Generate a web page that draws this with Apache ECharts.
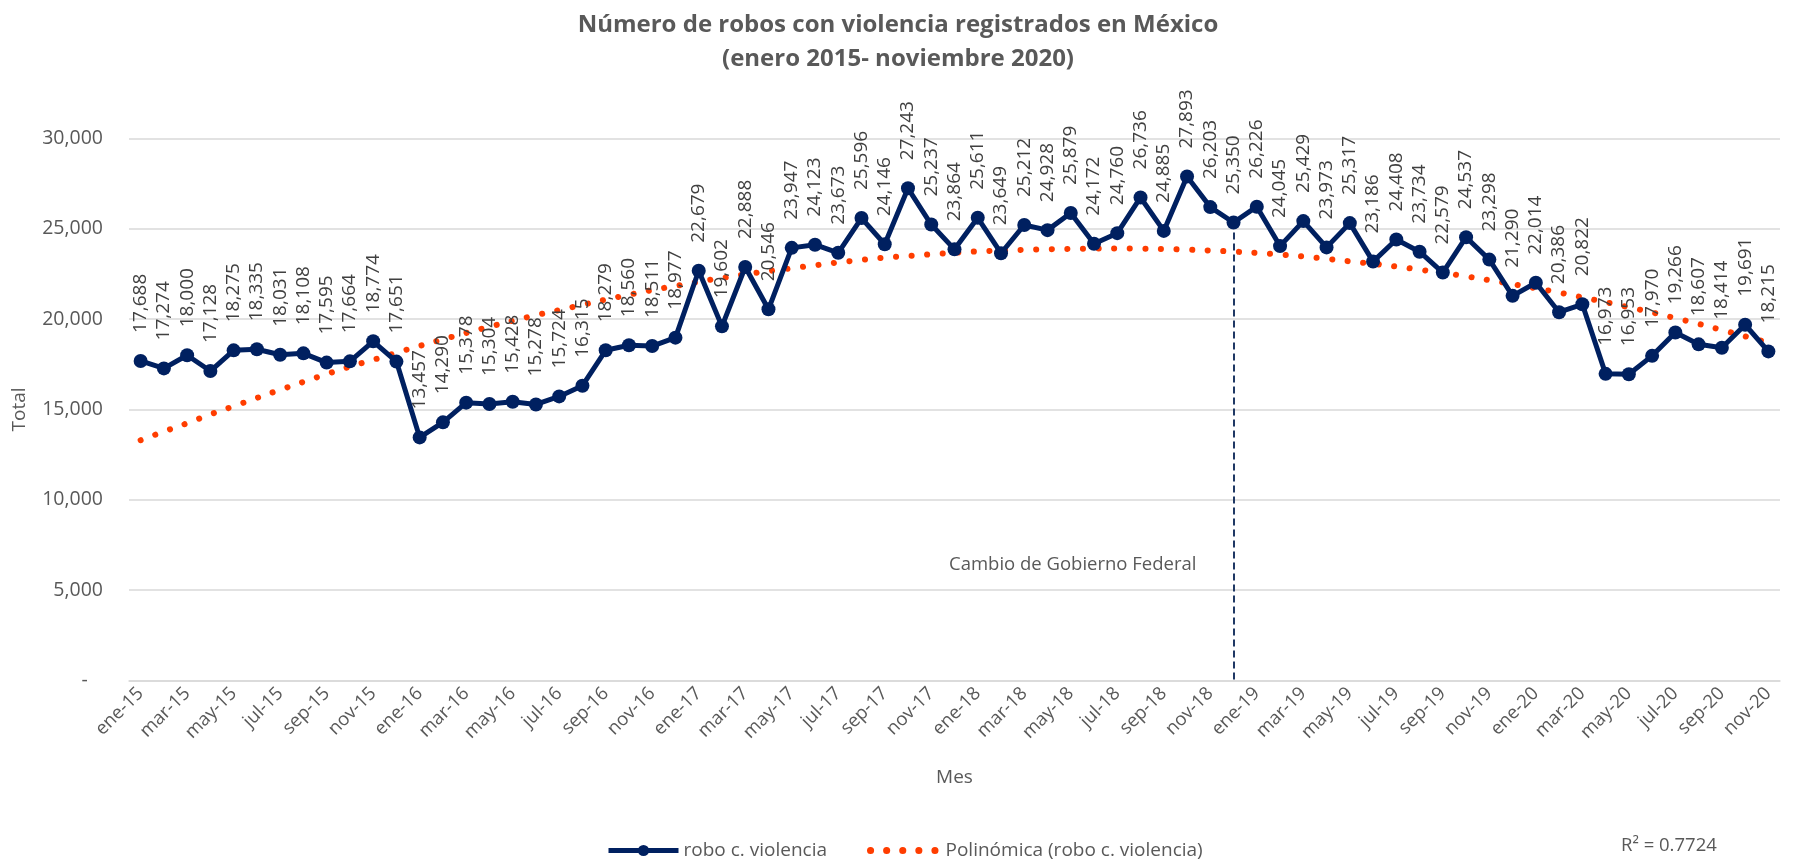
<!DOCTYPE html>
<html>
<head>
<meta charset="utf-8">
<script src="https://cdn.jsdelivr.net/npm/echarts@6/dist/echarts.min.js"></script>
<style>
	html, body { margin: 0; padding: 0; background: #fff; }
	#chart { width: 1796px; height: 862px; }
</style>
</head>
<body>
<div id="chart"></div>
<script>
const meses = [
	"ene-15", "feb-15", "mar-15", "abr-15", "may-15", "jun-15", "jul-15", "ago-15", "sep-15", "oct-15", "nov-15", "dic-15",
	"ene-16", "feb-16", "mar-16", "abr-16", "may-16", "jun-16", "jul-16", "ago-16", "sep-16", "oct-16", "nov-16", "dic-16",
	"ene-17", "feb-17", "mar-17", "abr-17", "may-17", "jun-17", "jul-17", "ago-17", "sep-17", "oct-17", "nov-17", "dic-17",
	"ene-18", "feb-18", "mar-18", "abr-18", "may-18", "jun-18", "jul-18", "ago-18", "sep-18", "oct-18", "nov-18", "dic-18",
	"ene-19", "feb-19", "mar-19", "abr-19", "may-19", "jun-19", "jul-19", "ago-19", "sep-19", "oct-19", "nov-19", "dic-19",
	"ene-20", "feb-20", "mar-20", "abr-20", "may-20", "jun-20", "jul-20", "ago-20", "sep-20", "oct-20", "nov-20",
];

// robo con violencia, total mensual
const robos = [
	17688, 17274, 18000, 17128, 18275, 18335, 18031, 18108, 17595, 17664, 18774, 17651,
	13457, 14290, 15378, 15304, 15428, 15278, 15724, 16315, 18279, 18560, 18511, 18977,
	22679, 19602, 22888, 20546, 23947, 24123, 23673, 25596, 24146, 27243, 25237, 23864,
	25611, 23649, 25212, 24928, 25879, 24172, 24760, 26736, 24885, 27893, 26203, 25350,
	26226, 24045, 25429, 23973, 25317, 23186, 24408, 23734, 22579, 24537, 23298, 21290,
	22014, 20386, 20822, 16973, 16953, 17970, 19266, 18607, 18414, 19691, 18215,
];

const tendencia = [
	13300, 13780, 14240, 14730, 15180, 15640, 16090, 16530, 16960, 17370, 17750, 18140,
	18520, 18880, 19240, 19580, 19910, 20220, 20500, 20790, 21080, 21350, 21610, 21840,
	22070, 22280, 22480, 22660, 22820, 22980, 23140, 23280, 23400, 23500, 23590, 23680,
	23750, 23800, 23840, 23870, 23890, 23905, 23910, 23900, 23880, 23850, 23800, 23740,
	23670, 23580, 23470, 23340, 23200, 23060, 22910, 22740, 22560, 22370, 22160, 21940,
	21710, 21470, 21210, 20940, 20660, 20370, 20060, 19740, 19400, 19050, 18700,
];

const cambioGobierno = { mes: "dic-18", desde: 24800 };

const gris = "#595959";
const fuente = "'Open Sans', sans-serif";
const punteado = [0.1, 15.5];

const chart = echarts.init(document.getElementById("chart"), null, { renderer: "canvas" });

chart.setOption({
	animation : false,
	textStyle : { fontFamily: fuente },
	title     : {
		text      : "Número de robos con violencia registrados en México\n(enero 2015- noviembre 2020)",
		left      : "center",
		top       : 3,
		textStyle : {
			fontFamily : fuente,
			fontSize   : 24,
			fontWeight : "bold",
			color      : gris,
			lineHeight : 34,
		},
	},
	legend: {
		left       : 601,
		top        : 836,
		itemWidth  : 70,
		itemHeight : 14,
		itemGap    : 40,
		textStyle  : { fontSize: 19, color: gris, fontFamily: fuente },
		data       : [
			{
				name      : "robo c. violencia",
				lineStyle : { width: 5, color: "#002060" },
			},
			{
				name      : "Polinómica (robo c. violencia)",
				itemStyle : { opacity: 0 },
				lineStyle : { width: 7, color: "#FF3D00", type: [0.1, 16], cap: "round" },
			},
		],
	},
	grid: {
		left   : 129,
		right  : 16,
		top    : 138.5,
		bottom : 181.5,
	},
	xAxis: {
		type         : "category",
		data         : meses,
		name         : "Mes",
		nameLocation : "middle",
		nameGap      : 88,
		nameTextStyle: { fontSize: 19, color: gris },
		axisLine     : { lineStyle: { color: "#D9D9D9", width: 1.5 } },
		axisTick     : { show: false },
		axisLabel    : {
			interval : 1,
			rotate   : 45,
			fontSize : 18.5,
			color    : gris,
			margin   : 10,
		},
	},
	yAxis: {
		type         : "value",
		min          : 0,
		max          : 30000,
		interval     : 5000,
		name         : "Total",
		nameLocation : "middle",
		nameGap      : 100,
		nameTextStyle: { fontSize: 19, color: gris },
		axisLine     : { show: false },
		axisTick     : { show: false },
		splitLine    : { lineStyle: { color: "#D9D9D9", width: 1.5 } },
		axisLabel    : {
			fontSize  : 19.5,
			color     : gris,
			margin    : 26,
			formatter : v => (v == 0 ? "-   " : v.toLocaleString("en-US")),
		},
	},
	series: [
		{
			name       : "robo c. violencia",
			type       : "line",
			data       : robos,
			symbol     : "circle",
			symbolSize : 14,
			z          : 3,
			itemStyle  : { color: "#002060" },
			lineStyle  : { color: "#002060", width: 5 },
			label      : {
				show          : true,
				position      : "top",
				distance      : 21,
				rotate        : 90,
				align         : "left",
				verticalAlign : "middle",
				fontSize      : 19,
				color         : "#404040",
				formatter     : p => p.value.toLocaleString("en-US"),
			},
			markLine: {
				silent    : true,
				symbol    : "none",
				lineStyle : { color: "#1F3864", width: 2, type: [7, 4] },
				label     : { show: false },
				data      : [
					[
						{ coord: [cambioGobierno.mes, cambioGobierno.desde] },
						{ coord: [cambioGobierno.mes, 0] },
					],
				],
			},
		},
		{
			name      : "Polinómica (robo c. violencia)",
			type      : "line",
			data      : tendencia,
			smooth    : true,
			symbol    : "none",
			silent    : true,
			z         : 2,
			itemStyle : { color: "#FF3D00" },
			lineStyle : { color: "#FF3D00", width: 6, type: punteado, cap: "round" },
		},
	],
	graphic: [
		{
			type  : "text",
			left  : 949,
			top   : 555,
			style : { text: "Cambio de Gobierno Federal", fontSize: 18.5, fill: gris, fontFamily: fuente },
		},
		{
			type  : "text",
			left  : 1621,
			top   : 836,
			style : { text: "R² = 0.7724", fontSize: 18.5, fill: gris, fontFamily: fuente },
		},
	],
});
</script>
</body>
</html>
